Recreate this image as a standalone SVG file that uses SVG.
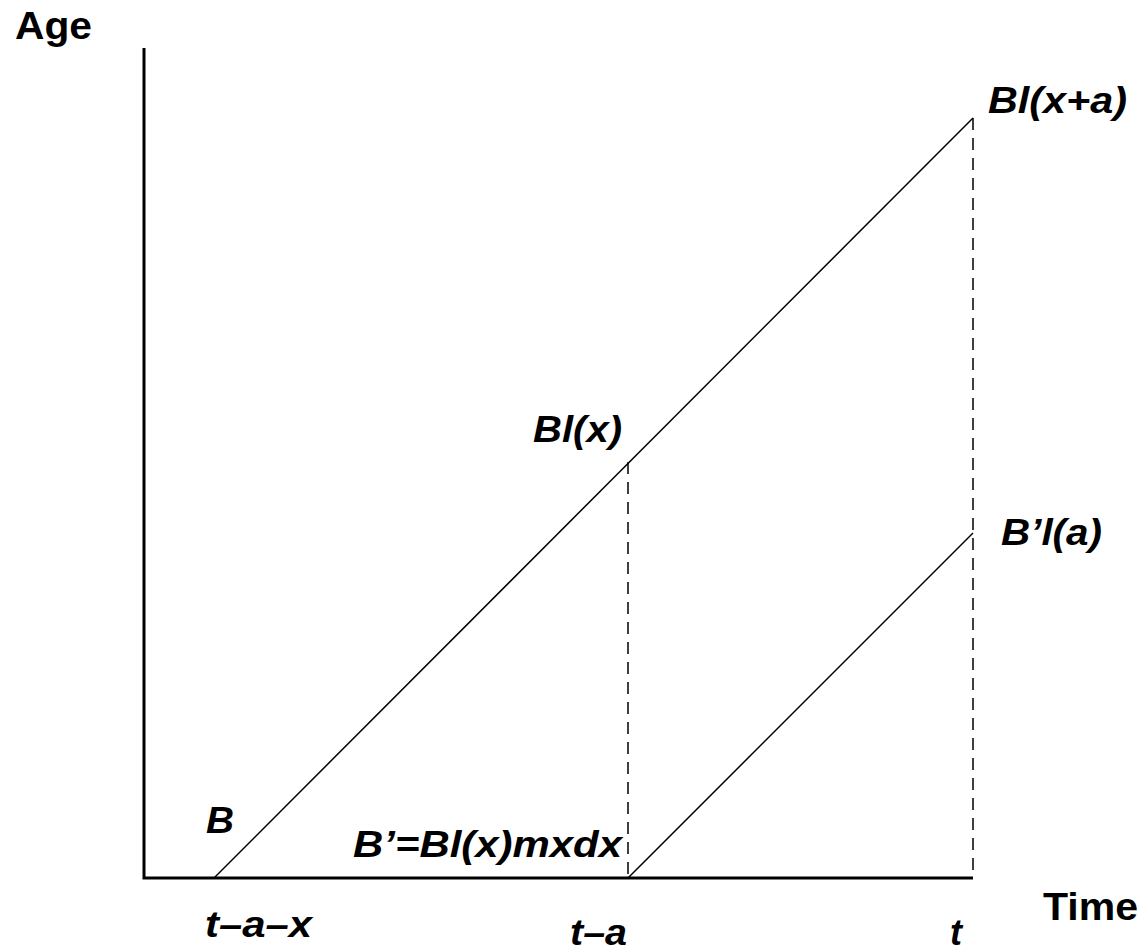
<svg xmlns="http://www.w3.org/2000/svg" width="1146" height="951" viewBox="0 0 1146 951">
<style>
.ax{stroke:#000;stroke-width:3;fill:none}
.ln{stroke:#000;stroke-width:1.5;fill:none}
.ds{stroke:#000;stroke-width:1.5;fill:none;stroke-dasharray:12,8}
.lb{font-family:"Liberation Sans",Arial,sans-serif;font-weight:bold;font-style:italic;font-size:36px;fill:#000}
.ti{font-family:"Liberation Sans",Arial,sans-serif;font-weight:bold;font-size:39px;fill:#000}
</style>
<rect width="1146" height="951" fill="#fff"/>
<g id="axes">
<polyline class="ax" points="144,48 144,878 973,878"/>
</g>
<g id="connectors">
<line class="ln" x1="214" y1="878" x2="973" y2="118"/>
<line class="ln" x1="628" y1="878" x2="973" y2="533"/>
<line class="ds" x1="628" y1="462" x2="628" y2="878"/>
<line class="ds" x1="973" y1="118" x2="973" y2="878"/>
</g>
<g id="labels">
<text class="ti" x="15" y="39" textLength="77" lengthAdjust="spacingAndGlyphs">Age</text>
<text class="ti" x="1043" y="920" textLength="95" lengthAdjust="spacingAndGlyphs">Time</text>
<text class="lb" x="988" y="113" textLength="139" lengthAdjust="spacingAndGlyphs">Bl(x+a)</text>
<text class="lb" x="533" y="442" textLength="89" lengthAdjust="spacingAndGlyphs">Bl(x)</text>
<text class="lb" x="1001" y="545" textLength="101" lengthAdjust="spacingAndGlyphs">B’l(a)</text>
<text class="lb" x="206" y="833" textLength="28" lengthAdjust="spacingAndGlyphs">B</text>
<text class="lb" x="353" y="857" textLength="269" lengthAdjust="spacingAndGlyphs">B’=Bl(x)mxdx</text>
<text class="lb" x="205" y="937" textLength="107" lengthAdjust="spacingAndGlyphs">t–a–x</text>
<text class="lb" x="570" y="945" textLength="57" lengthAdjust="spacingAndGlyphs">t–a</text>
<text class="lb" x="950" y="945">t</text>
</g>
</svg>
